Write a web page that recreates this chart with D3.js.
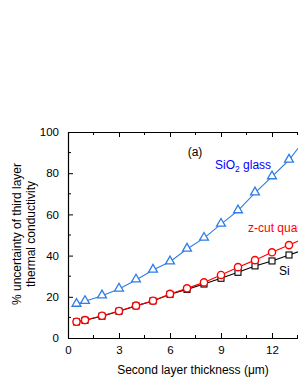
<!DOCTYPE html>
<html>
<head>
<meta charset="utf-8">
<script src="https://cdn.jsdelivr.net/npm/d3@7"></script>
<style>
  body { margin: 0; background: #fff; }
  svg { display: block; font-family: Arial, "Liberation Sans", sans-serif; }
</style>
</head>
<body>
<svg width="298" height="385"></svg>
<script>
// thickness of second layer (um)
var thickness = [0.5, 1, 2, 3, 4, 5, 6, 7, 8, 9, 10, 11, 12, 13, 14];
// % uncertainty
var sio2 = [16.4, 17.8, 20.5, 23.8, 28.2, 33.0, 37.0, 43.2, 48.5, 55.3, 61.8, 70.5, 78.3, 86.4, 97.0];
var quartz = [7.9, 8.7, 10.8, 13.1, 15.7, 18.1, 21.4, 24.1, 27.0, 30.6, 34.4, 37.8, 41.6, 45.1, 48.8];
var si = [7.8, 8.6, 10.6, 13.0, 15.6, 18.0, 21.2, 23.6, 26.2, 29.0, 31.9, 35.0, 37.4, 40.3, 43.2];
var xTicks = [0, 3, 6, 9, 12];
var yTicks = [0, 20, 40, 60, 80, 100];

var svg = d3.select("svg");
var mLeft = 68, mTop = 132, mRight = 323, mBottom = 338;

var x = d3.scaleLinear().domain([0, 15]).range([mLeft, mRight]);
var y = d3.scaleLinear().domain([0, 100]).range([mBottom, mTop]);

var series = [
  {name: "sio2", values: sio2, color: "#2f7de6", marker: "tri"},
  {name: "quartz", values: quartz, color: "#ff0000", marker: "circ"},
  {name: "si", values: si, color: "#000000", marker: "sq"}
];

var line = d3.line()
    .x(function(d) { return x(d[0]); })
    .y(function(d) { return y(d[1]); });

// black first, red on top of it, blue last
[series[2], series[1], series[0]].forEach(function(s) {
  var pts = thickness.map(function(t, i) { return [t, s.values[i]]; });
  var g = svg.append("g");
  g.append("path")
      .datum(pts)
      .attr("d", line)
      .attr("fill", "none")
      .attr("stroke", s.color)
      .attr("stroke-width", 1.1);
  var m = g.selectAll(".m").data(pts).enter();
  if (s.marker == "tri") {
    m.append("path")
        .attr("d", d3.symbol().type(d3.symbolTriangle).size(34))
        .attr("transform", function(d) { return "translate(" + x(d[0]) + "," + (y(d[1]) - 0.5) + ")"; })
        .attr("fill", "#fff")
        .attr("stroke", s.color)
        .attr("stroke-width", 1.3);
  } else if (s.marker == "circ") {
    m.append("circle")
        .attr("cx", function(d) { return x(d[0]); })
        .attr("cy", function(d) { return y(d[1]); })
        .attr("r", 3.6)
        .attr("fill", "#fff")
        .attr("stroke", s.color)
        .attr("stroke-width", 1.4);
  } else {
    m.append("rect")
        .attr("x", function(d) { return x(d[0]) - 3; })
        .attr("y", function(d) { return y(d[1]) - 3; })
        .attr("width", 6)
        .attr("height", 6)
        .attr("fill", "#fff")
        .attr("stroke", s.color)
        .attr("stroke-width", 1.1);
  }
});

// axes, ticks pointing inward
var minorX = d3.range(1.5, 15, 3);
var minorY = d3.range(10, 100, 20);
var majorX = d3.range(0, 16, 3);

var bottomAxis = svg.append("g")
    .attr("transform", "translate(0," + mBottom + ")")
    .call(d3.axisBottom(x).tickValues(xTicks).tickSizeInner(-5).tickSizeOuter(0).tickPadding(8));
bottomAxis.append("g").selectAll("line").data(minorX).enter().append("line")
    .attr("x1", function(d) { return x(d); }).attr("x2", function(d) { return x(d); })
    .attr("y1", 0).attr("y2", -3).attr("stroke", "#000");

var topAxis = svg.append("g")
    .attr("transform", "translate(0," + mTop + ")")
    .call(d3.axisTop(x).tickValues(majorX).tickSizeInner(-5).tickSizeOuter(0).tickFormat(""));
topAxis.append("g").selectAll("line").data(minorX).enter().append("line")
    .attr("x1", function(d) { return x(d); }).attr("x2", function(d) { return x(d); })
    .attr("y1", 0).attr("y2", 3).attr("stroke", "#000");

var leftAxis = svg.append("g")
    .attr("transform", "translate(" + mLeft + ",0)")
    .call(d3.axisLeft(y).tickValues(yTicks).tickSizeInner(-5).tickSizeOuter(0).tickPadding(9));
leftAxis.append("g").selectAll("line").data(minorY).enter().append("line")
    .attr("y1", function(d) { return y(d); }).attr("y2", function(d) { return y(d); })
    .attr("x1", 0).attr("x2", 3).attr("stroke", "#000");

svg.selectAll(".domain").attr("stroke", "#000").attr("stroke-width", 1.2);
svg.selectAll(".tick line").attr("stroke", "#000");
svg.selectAll(".tick text")
    .attr("font-size", 11.5)
    .attr("font-family", "Arial, 'Liberation Sans', sans-serif")
    .attr("fill", "#000");

// axis titles
svg.append("text")
    .attr("x", 193).attr("y", 374)
    .attr("text-anchor", "middle")
    .attr("font-size", 12)
    .text("Second layer thickness (\u03bcm)");

var ylab = svg.append("text")
    .attr("transform", "translate(21,234) rotate(-90)")
    .attr("text-anchor", "middle")
    .attr("font-size", 12);
ylab.append("tspan").attr("x", 0).attr("y", 0).text("% uncertainty of third layer");
ylab.append("tspan").attr("x", 0).attr("y", 14).text("thermal conductivity");

// annotations
svg.append("text").attr("x", 195).attr("y", 156)
    .attr("text-anchor", "middle").attr("font-size", 12).text("(a)");

var t1 = svg.append("text").attr("x", 215).attr("y", 169)
    .attr("font-size", 12).attr("fill", "#0000ff");
t1.append("tspan").text("SiO");
t1.append("tspan").attr("font-size", 8.5).attr("dy", 3).text("2");
t1.append("tspan").attr("dy", -3).text(" glass");

svg.append("text").attr("x", 248).attr("y", 232)
    .attr("font-size", 12).attr("fill", "#ff0000").text("z-cut quartz");

svg.append("text").attr("x", 279).attr("y", 275)
    .attr("font-size", 12).attr("fill", "#000").text("Si");
</script>
</body>
</html>
